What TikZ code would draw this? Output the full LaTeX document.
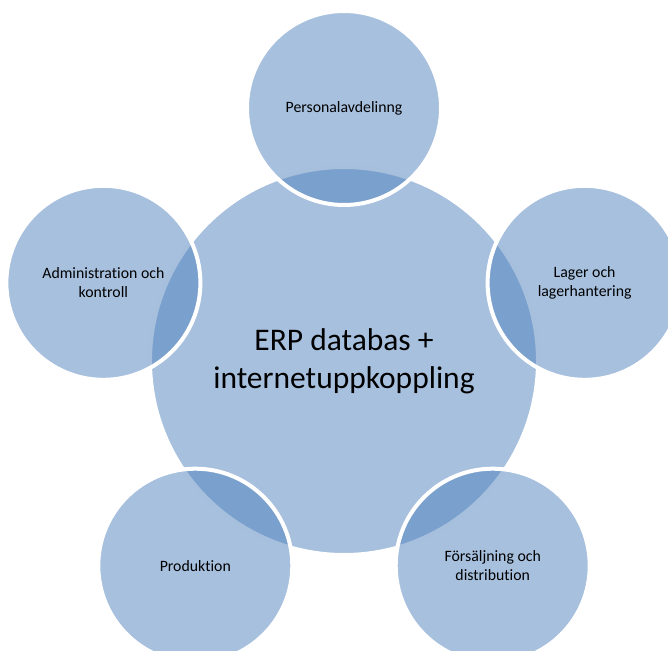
\documentclass[tikz,border=0pt]{standalone}
\usepackage{fontspec}
\setmainfont{Carlito}[Ligatures={NoCommon,NoContextual,NoRequired},Contextuals=NoAlternate]
\usetikzlibrary{positioning}
\definecolor{erpblue}{RGB}{79,129,189}
\tikzset{
    hubcircle/.style={
        circle,
        minimum size=388pt,
        inner sep=0pt,
        align=center,
        fill=erpblue,
        fill opacity=0.5,
        text opacity=1,
        draw=white,
        line width=4pt,
        font=\fontsize{31.5}{38}\selectfont
    },
    partcircle/.style={
        circle,
        minimum size=194pt,
        inner sep=0pt,
        align=center,
        fill=erpblue,
        fill opacity=0.5,
        text opacity=1,
        draw=white,
        line width=4pt,
        font=\fontsize{15.8}{19}\selectfont
    }
}

\begin{document}
\begin{tikzpicture}[x=1pt, y=1pt]

\path[use as bounding box] (0,0) rectangle (668,-650);
\clip (0,0) rectangle (668,-650);

% Nodes
\node (erp) [hubcircle] at (344,-361) {ERP databas +\\internetuppkoppling};
\node (personal) [partcircle] at ([shift={(90:253)}]erp.center) {Personalavdelinng};
\node (lager) [partcircle] at ([shift={(18:253)}]erp.center) {Lager och\\lagerhantering};
\node (forsaljning) [partcircle] at ([shift={(-54:253)}]erp.center) {Försäljning och\\distribution};
\node (produktion) [partcircle] at ([shift={(-126:253)}]erp.center) {Produktion};
\node (admin) [partcircle] at ([shift={(162:253)}]erp.center) {Administration och\\kontroll};

\end{tikzpicture}
\end{document}
